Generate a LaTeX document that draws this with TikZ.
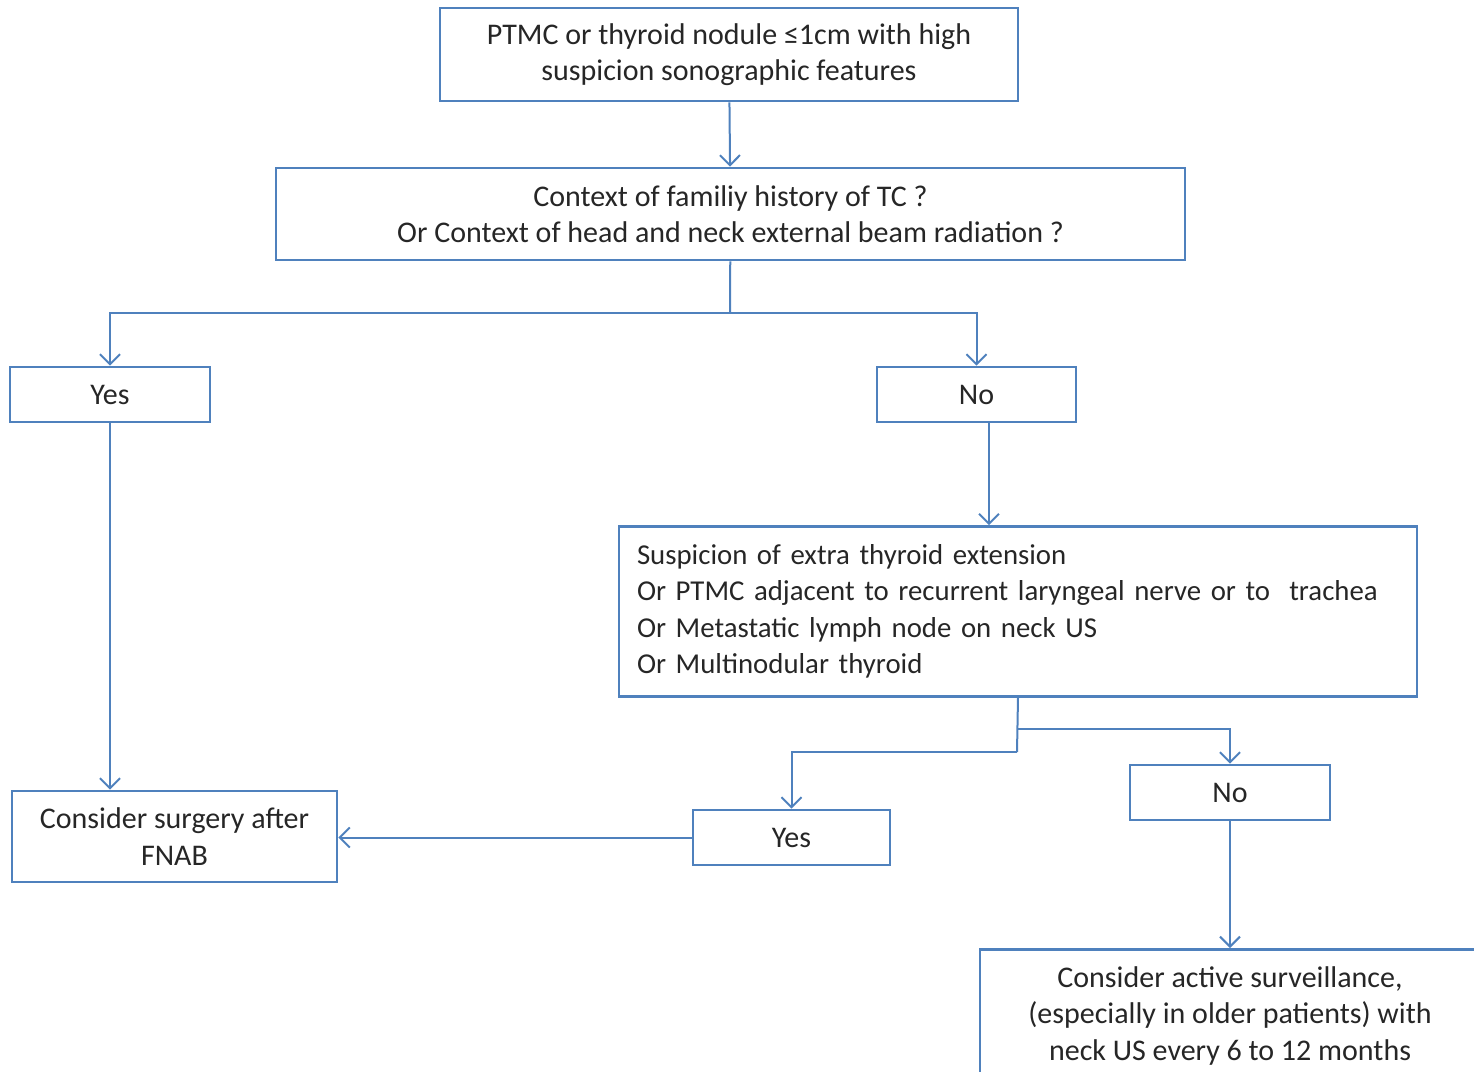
\documentclass[tikz,border=0pt]{standalone}
\usepackage{fontspec}
\setmainfont{Carlito}
\usepackage{tikz}
\usetikzlibrary{arrows.meta,positioning}
\definecolor{flowblue}{HTML}{4F81BD}

\begin{document}
\begin{tikzpicture}[x=0.5pt,y=-0.5pt,>={Straight Barb[length=5pt,width=10pt]},
  every node/.style={font=\fontsize{15}{18.2}\selectfont,text=black!85},
  box/.style={draw=flowblue,line width=1.4pt,inner sep=0pt,align=center,minimum height=27.5pt},
  link/.style={draw=flowblue,line width=1pt}]
\useasboundingbox (0,0) rectangle (1474,1072);
\node[box,minimum width=289pt,minimum height=46.5pt] (top) at (729,54.5) {PTMC or thyroid nodule ≤1cm with high\\suspicion sonographic features};
\node[box,minimum width=454.5pt,minimum height=46pt] (ctx) at (730.5,214) {Context of familiy history of TC ?\\Or Context of head and neck external beam radiation ?};
\node[box,minimum width=100pt] (yes1) at (110,394.5) {Yes};
\node[box,minimum width=99.5pt] (no1) at (976.5,394.5) {No};
\node[box,align=left,inner sep=9pt,text width=381pt,minimum height=81.5pt,font=\fontsize{14.4}{18.2}\selectfont] (susp) at (1018,611.5) {Suspicion of extra thyroid extension\\Or PTMC adjacent to recurrent laryngeal nerve or to\ \ trachea\\Or Metastatic lymph node on neck US\\Or Multinodular thyroid};
\node[box,minimum width=98.5pt] (yes2) at (791.5,837.5) {Yes};
\node[box,minimum width=100pt] (no2) at (1230,792.5) {No};
\node[box,minimum width=162.5pt,minimum height=45.5pt] (surg) at (174.5,836.5) {Consider surgery after\\FNAB};
\node[box,anchor=north,minimum width=250pt,minimum height=70pt,text depth=6pt] (surv) at (1230,948) {Consider active surveillance,\\(especially in older patients) with\\neck US every 6 to 12 months};
\coordinate (split1) at (730,313);
\coordinate (split2) at (1017,752);
\coordinate (split3) at (1017,729);
\draw[link,->] (top) -- (ctx);
\draw[link] (ctx) -- (split1);
\draw[link,->] (split1) -| (yes1);
\draw[link,->] (split1) -| (no1);
\draw[link,->] ([xshift=6.25pt]no1.south) -- ([xshift=6.25pt]no1.south |- susp.north);
\draw[link] (susp.south) -- (split2);
\draw[link,->] (split2) -| (yes2);
\draw[link,->] (split3) -| (no2);
\draw[link,->] (yes1.south) -- (yes1.south |- surg.north);
\draw[link,->] (yes2.west) -- (yes2.west -| surg.east);
\draw[link,->] (no2) -- (surv);
\end{tikzpicture}
\end{document}
